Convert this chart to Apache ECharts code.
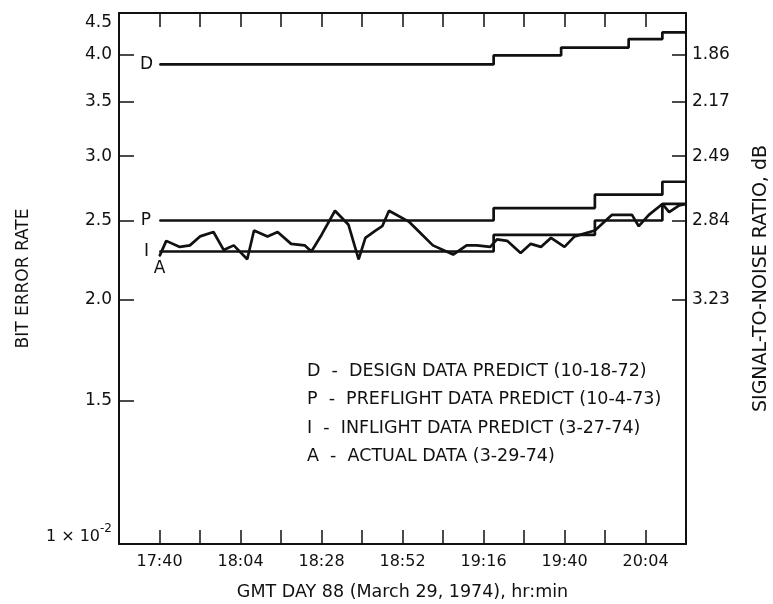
<!DOCTYPE html>
<html>
<head>
<meta charset="utf-8">
<script src="https://cdn.jsdelivr.net/npm/echarts@6/dist/echarts.min.js"></script>
<style>
html, body { margin: 0; padding: 0; background: #fff; }
#chart { width: 773px; height: 604px; }
</style>
</head>
<body>
<div id="chart"></div>
<script>
// x: GMT hr:min on day 88, y: bit error rate in units of 10^-2 (log scale)
var xTickLabels = ['17:40', '18:04', '18:28', '18:52', '19:16', '19:40', '20:04'];
var berTicks = [1, 1.5, 2.0, 2.5, 3.0, 3.5, 4.0, 4.5];
var snrTickBer = [4.0, 3.5, 3.0, 2.5, 2.0];
var snrTickLabels = ['1.86', '2.17', '2.49', '2.84', '3.23'];

var designTimes = ['17:40', '19:19', '19:39', '19:59', '20:09', '20:16'];
var designBer = [3.89, 3.99, 4.08, 4.18, 4.26, 4.26];
var preflightTimes = ['17:40', '19:19', '19:49', '20:09', '20:16'];
var preflightBer = [2.50, 2.59, 2.69, 2.79, 2.79];
var inflightTimes = ['17:40', '19:19', '19:49', '20:09', '20:16'];
var inflightBer = [2.29, 2.40, 2.50, 2.62, 2.62];

var actualTimes = ['17:40', '17:42', '17:46', '17:49', '17:52', '17:56', '17:59', '18:02', '18:06', '18:08',
    '18:12', '18:15', '18:19', '18:23', '18:25', '18:28', '18:32', '18:36', '18:39', '18:41',
    '18:44', '18:46', '18:48', '18:54', '18:57', '19:01', '19:07', '19:11', '19:14', '19:18',
    '19:20', '19:23', '19:27', '19:30', '19:33', '19:36', '19:40', '19:43', '19:49', '19:54',
    '20:00', '20:02', '20:05', '20:09', '20:11', '20:14', '20:16'];
var actualBer = [2.26, 2.36, 2.32, 2.33, 2.39, 2.42, 2.30, 2.33, 2.24, 2.43,
    2.39, 2.42, 2.34, 2.33, 2.29, 2.40, 2.57, 2.47, 2.24, 2.38,
    2.43, 2.46, 2.57, 2.49, 2.42, 2.33, 2.27, 2.33, 2.33, 2.32,
    2.37, 2.36, 2.28, 2.34, 2.32, 2.38, 2.32, 2.39, 2.43, 2.54,
    2.54, 2.46, 2.54, 2.62, 2.56, 2.61, 2.62];

var legendLines = [
    'D  -  DESIGN DATA PREDICT (10-18-72)',
    'P  -  PREFLIGHT DATA PREDICT (10-4-73)',
    'I  -  INFLIGHT DATA PREDICT (3-27-74)',
    'A  -  ACTUAL DATA (3-29-74)'
];

var FONT = 'DejaVu Sans';
var INK = '#111';
var T0 = 17 * 60 + 40;   // minutes of 17:40, axis origin

function toMin(t) {
    var p = t.split(':');
    return (+p[0]) * 60 + (+p[1]) - T0;
}
function toHHMM(m) {
    var t = m + T0;
    var mm = t % 60;
    return Math.floor(t / 60) + ':' + (mm < 10 ? '0' : '') + mm;
}
function pairs(times, vals, tag, pos, dist) {
    return times.map(function (t, i) {
        var item = { value: [toMin(t), vals[i]] };
        if (i === 0) {
            item.label = { show: true, position: pos, distance: dist, formatter: tag };
        }
        return item;
    });
}

var lineStyle = { color: INK, width: 2.7 };
var labelStyle = { show: false, color: INK, fontFamily: FONT, fontSize: 17 };

function stepSeries(name, times, vals, tag, dist) {
    return {
        name: name,
        type: 'line',
        step: 'end',
        yAxisIndex: 0,
        symbol: 'circle',
        symbolSize: 1,
        itemStyle: { color: INK },
        lineStyle: lineStyle,
        label: labelStyle,
        data: pairs(times, vals, tag, 'left', dist)
    };
}

var myChart = echarts.init(document.getElementById('chart'));

var option = {
    animation: false,
    backgroundColor: '#fff',
    textStyle: { fontFamily: FONT, color: INK },
    grid: { left: 119, right: 87, top: 13, bottom: 60, containLabel: false, outerBoundsMode: 'none' },
    xAxis: [
        {
            type: 'value',
            position: 'bottom',
            min: -12,
            max: 156,
            interval: 12,
            name: 'GMT DAY 88 (March 29, 1974), hr:min',
            nameLocation: 'middle',
            nameGap: 39,
            nameTextStyle: { color: INK, fontFamily: FONT, fontSize: 17.5 },
            axisLine: { onZero: false, lineStyle: { color: INK, width: 2 } },
            axisTick: { inside: true, length: 14, lineStyle: { color: INK, width: 1.5 } },
            axisLabel: {
                customValues: xTickLabels.map(toMin),
                formatter: function (v) { return toHHMM(v); },
                color: INK, fontFamily: FONT, fontSize: 16, margin: 10
            },
            splitLine: { show: false }
        },
        {
            type: 'value',
            position: 'top',
            min: -12,
            max: 156,
            interval: 12,
            axisLine: { onZero: false, lineStyle: { color: INK, width: 2 } },
            axisTick: { inside: true, length: 14, lineStyle: { color: INK, width: 1.5 } },
            axisLabel: { show: false },
            splitLine: { show: false }
        }
    ],
    yAxis: [
        {
            type: 'log',
            logBase: 10,
            position: 'left',
            min: 1,
            max: 4.5,
            name: 'BIT ERROR RATE',
            nameLocation: 'middle',
            nameRotate: 90,
            nameGap: 87,
            nameTextStyle: { color: INK, fontFamily: FONT, fontSize: 17 },
            axisLine: { show: true, onZero: false, lineStyle: { color: INK, width: 2 } },
            axisTick: {
                inside: true, length: 15,
                customValues: berTicks.slice(1, -1),
                lineStyle: { color: INK, width: 1.5 }
            },
            axisLabel: {
                customValues: berTicks,
                margin: 7,
                color: INK, fontFamily: FONT, fontSize: 17,
                formatter: function (v) {
                    if (Math.abs(v - 1) < 1e-6) return '{lo|1 × 10}{sup|-2}';
                    if (Math.abs(v - 4.5) < 1e-6) return '{hi|4.5}';
                    return v.toFixed(1);
                },
                rich: {
                    lo: { fontFamily: FONT, fontSize: 16, color: INK, padding: [0, 0, 14, 0] },
                    sup: { fontFamily: FONT, fontSize: 12, color: INK, padding: [0, 0, 30, 0] },
                    hi: { fontFamily: FONT, fontSize: 17, color: INK, padding: [20, 0, 0, 0] }
                }
            },
            splitLine: { show: false }
        },
        {
            type: 'log',
            logBase: 10,
            position: 'right',
            min: 1,
            max: 4.5,
            name: 'SIGNAL-TO-NOISE RATIO, dB',
            nameLocation: 'middle',
            nameRotate: 90,
            nameGap: 66,
            nameTextStyle: { color: INK, fontFamily: FONT, fontSize: 19 },
            axisLine: { show: true, onZero: false, lineStyle: { color: INK, width: 2 } },
            axisTick: {
                inside: true, length: 14,
                customValues: snrTickBer,
                lineStyle: { color: INK, width: 1.5 }
            },
            axisLabel: {
                customValues: snrTickBer,
                margin: 6,
                color: INK, fontFamily: FONT, fontSize: 17,
                formatter: function (v) {
                    for (var i = 0; i < snrTickBer.length; i++) {
                        if (Math.abs(v - snrTickBer[i]) < 1e-6) return snrTickLabels[i];
                    }
                    return '';
                }
            },
            splitLine: { show: false }
        }
    ],
    graphic: legendLines.map(function (txt, i) {
        return {
            type: 'text',
            left: 307,
            top: 362 + i * 28.5,
            style: { text: txt, fill: INK, font: '17.5px "' + FONT + '"' }
        };
    }),
    series: [
        stepSeries('D', designTimes, designBer, 'D', 6),
        stepSeries('P', preflightTimes, preflightBer, 'P', 8),
        stepSeries('I', inflightTimes, inflightBer, 'I', 10),
        {
            name: 'A',
            type: 'line',
            yAxisIndex: 0,
            symbol: 'circle',
            symbolSize: 1,
            itemStyle: { color: INK },
            lineStyle: { color: INK, width: 2.7 },
            label: labelStyle,
            data: pairs(actualTimes, actualBer, 'A', 'bottom', 3)
        }
    ]
};
myChart.setOption(option);
</script>
</body>
</html>
